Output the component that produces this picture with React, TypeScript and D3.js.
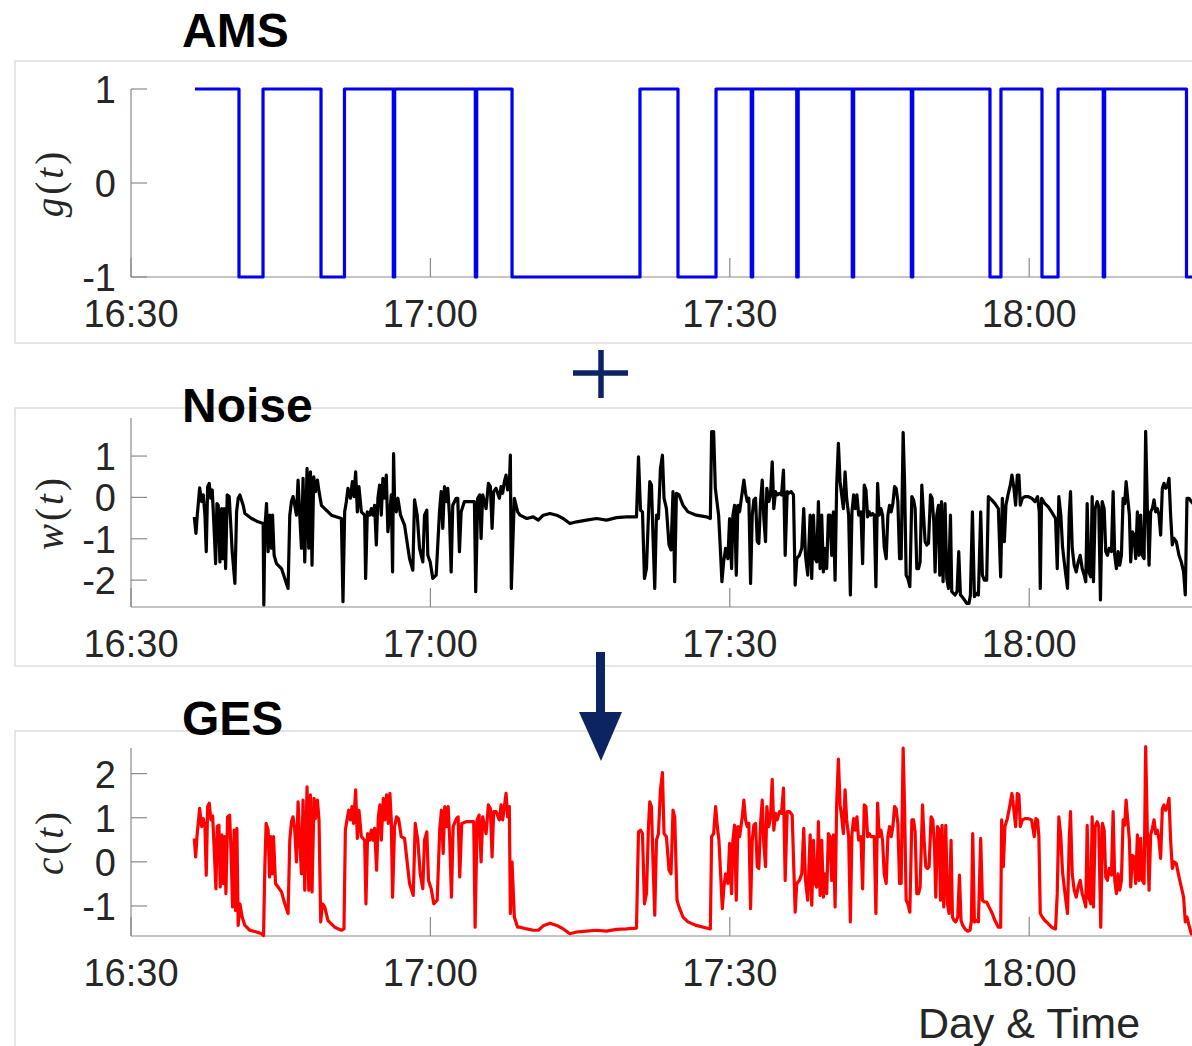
import React from "react";
import * as d3 from "d3";

// ---------- DATA (minutes after 16:30) ----------
const xTickLabels = ["16:30", "17:00", "17:30", "18:00"];

const amsSwitchMinutes = [6.41, 10.82, 13.23, 19.04, 21.39, 26.28, 26.42, 34.5, 34.64, 38.18, 51.0, 54.81, 58.62, 62.15, 62.29, 66.71, 66.85, 72.27, 72.41, 78.19, 78.33, 86.07, 87.17, 91.28, 92.89, 97.42, 97.56, 105.76, 108];
const amsStates = [1, -1, 1, -1, 1, -1, 1, -1, 1, -1, 1, -1, 1, -1, 1, -1, 1, -1, 1, -1, 1, -1, 1, -1, 1, -1, 1, -1, -1];

const noiseSeries: [number, number][] = [
  [6.34,-0.47],[6.51,-0.87],[6.64,-0.43],[6.88,0.23],[7.08,-0.10],[7.24,0.06],[7.41,-0.43],[7.54,-1.31],[7.68,0.26],[7.84,0.34],[7.98,-0.02],[8.14,0.18],[8.31,-0.67],[8.48,-1.60],[8.61,-0.15],[8.74,-0.19],[8.91,-1.56],[9.08,-0.27],[9.21,-1.48],[9.34,-0.27],[9.48,-1.72],[9.64,0.06],[9.84,0.02],[9.98,-0.59],[10.14,-1.31],[10.41,-2.08],[10.58,-0.35],[10.74,-0.02],[10.91,0.06],[11.24,-0.19],[11.41,-0.39],[12.08,-0.51],[12.74,-0.59],[13.24,-0.63],[13.31,-2.6],[13.41,-0.75],[13.58,-0.15],[13.74,-1.31],[13.91,-0.43],[14.08,-1.23],[14.18,-0.43],[14.34,-1.40],[14.58,-1.60],[15.08,-1.72],[15.41,-1.96],[15.74,-2.20],[15.91,-0.43],[16.08,-0.10],[16.24,0.02],[16.41,-0.19],[16.58,-0.43],[16.74,0.42],[16.91,-0.43],[17.08,-1.23],[17.24,0.46],[17.41,-1.56],[17.64,0.70],[17.81,-1.23],[17.98,0.62],[18.14,-1.64],[18.31,0.50],[18.48,0.14],[18.68,0.42],[18.84,0.14],[19.08,-0.19],[19.41,-0.27],[20.08,-0.43],[21.08,-0.51],[21.24,-2.52],[21.41,-0.35],[21.58,-0.10],[21.74,0.22],[21.98,-0.02],[22.18,0.38],[22.34,0.02],[22.51,0.62],[22.68,-0.35],[22.84,0.26],[23.08,-0.35],[23.41,-0.43],[23.51,-1.96],[23.68,-0.35],[23.91,-0.43],[24.08,-0.27],[24.24,-0.43],[24.41,-0.19],[24.58,-1.15],[24.74,-0.02],[24.91,0.30],[25.08,-0.43],[25.24,0.46],[25.41,-0.02],[25.58,0.54],[25.74,-0.83],[25.91,-0.43],[26.08,0.06],[26.21,-1.80],[26.31,1.06],[26.41,-0.02],[26.58,-0.35],[26.74,-0.02],[27.01,-0.43],[27.41,-0.67],[27.91,-1.48],[28.24,-1.76],[28.41,-0.06],[28.68,-0.43],[28.91,-1.23],[29.24,-1.56],[29.41,-0.43],[29.64,-0.31],[29.74,-1.40],[29.98,-1.56],[30.24,-1.96],[30.58,-1.88],[30.91,-0.35],[31.08,0.14],[31.24,-0.75],[31.41,0.26],[31.58,-0.10],[31.74,0.22],[31.91,-0.43],[32.08,-1.80],[32.24,-0.19],[32.58,-0.02],[32.74,-0.02],[32.91,-1.31],[33.08,-0.35],[33.41,-0.10],[34.41,-0.10],[34.54,-2.28],[34.74,-0.02],[34.94,0.06],[35.08,-0.99],[35.24,0.06],[35.58,-0.27],[35.81,0.34],[36.01,0.26],[36.18,-0.75],[36.34,0.14],[36.58,0.22],[36.91,-0.02],[37.08,0.26],[37.24,0.10],[37.41,0.38],[37.58,0.54],[37.74,0.18],[37.91,0.30],[38.01,1.02],[38.11,-2.20],[38.41,-0.02],[38.74,-0.35],
  [38.98,-0.43],[39.65,-0.51],[40.31,-0.47],[40.81,-0.55],[41.31,-0.43],[41.98,-0.39],[42.65,-0.43],[43.31,-0.51],[43.98,-0.63],[44.65,-0.59],[45.65,-0.55],[46.65,-0.51],[47.65,-0.55],[48.65,-0.49],[49.65,-0.47],[50.65,-0.47],[50.85,0.98],[51.05,-0.31],[51.25,-0.35],[51.45,-1.96],[51.65,-1.72],[51.85,-0.43],[51.98,0.38],[52.15,0.30],[52.31,-0.99],[52.48,-2.20],[52.65,-0.43],[52.85,-0.51],[53.05,0.70],[53.25,1.02],[53.41,-0.02],[53.65,-0.27],[53.91,-1.15],[54.11,-1.27],[54.31,0.14],[54.48,-2.04],[54.65,0.10],[54.91,0.06],[55.31,-0.19],[55.81,-0.35],[56.65,-0.43],[57.65,-0.47],[58.05,-0.51],[58.18,1.59],[58.38,1.59],[58.55,0.22],[58.71,-0.10],[58.88,-0.43],[59.05,-1.23],[59.21,-2.04],[59.38,-1.56],[59.58,-1.23],[59.81,-1.48],[59.98,-0.51],[60.18,-1.72],[60.31,-0.43],[60.48,-0.19],[60.65,-1.88],[60.81,-0.19],[60.98,-0.35],[61.25,0.14],[61.41,0.42],[61.58,0.10],[61.75,-0.10],[61.91,-0.02],[62.08,-2.08],[62.25,-0.43],[62.41,-0.06],[62.58,-0.02],[62.75,-1.07],[62.91,-1.11],[63.08,-0.10],[63.25,0.42],[63.41,-0.51],[63.58,-1.07],[63.71,0.22],[63.91,-0.10],[64.08,0.06],[64.25,0.86],[64.41,-0.27],[64.58,0.14],[64.75,0.06],[64.98,0.10],[65.18,0.06],[65.38,0.66],[65.55,-1.40],[65.75,0.14],[65.91,0.10],[66.15,0.14],[66.38,0.06],[66.55,-2.12],[66.71,-1.48],[66.98,-1.40],[67.21,-1.23],[67.41,-0.27],[67.58,-1.40],[67.81,-1.88],[68.05,-0.43],[68.21,-1.96],[68.38,-0.43],[68.55,-1.48],[68.71,-1.56],[68.88,-0.10],[69.05,-1.72],[69.21,-0.43],[69.38,-1.80],[69.55,-1.23],[69.71,-1.72],[69.88,-0.43],[70.05,-0.43],[70.21,-1.40],[70.38,-0.35],[70.55,-2.00],[70.71,0.30],[70.88,1.31],[71.05,0.38],[71.21,0.06],[71.38,-0.27],[71.55,0.62],[71.71,-0.02],[71.91,-0.43],[72.08,-2.36],
  [72.24,-0.35],[72.41,0.06],[72.57,-0.27],[72.74,0.06],[72.91,-0.43],[73.14,-0.35],[73.31,-1.60],[73.47,0.30],[73.64,0.18],[73.81,-0.47],[73.97,-0.35],[74.14,-0.43],[74.31,-0.39],[74.47,-0.43],[74.64,-2.16],[74.81,0.34],[74.97,-0.43],[75.14,-0.27],[75.31,-0.43],[75.47,-1.19],[75.67,-1.48],[75.84,-0.43],[76.01,-0.19],[76.17,-0.35],[76.34,-0.15],[76.51,0.26],[76.67,0.22],[76.84,-0.10],[77.01,-1.48],[77.17,-1.48],[77.37,1.57],[77.51,0.38],[77.67,-1.88],[77.84,-1.96],[78.04,-2.16],[78.24,0.02],[78.41,-0.06],[78.57,-0.27],[78.74,-1.72],[78.91,-1.72],[79.07,-1.56],[79.24,0.30],[79.41,-0.43],[79.57,-1.07],[79.74,-1.15],[79.91,-1.11],[80.11,0.06],[80.27,-0.02],[80.44,-0.59],[80.57,-1.80],[80.74,-0.43],[80.91,-0.19],[81.04,-1.88],[81.21,-0.10],[81.37,-2.04],[81.57,-0.15],[81.74,-1.96],[81.91,-2.20],[82.11,-0.43],[82.24,-2.28],[82.41,-2.32],[82.57,-2.36],[82.77,-2.28],[82.94,-1.31],[83.11,-2.36],[83.27,-2.40],[83.51,-2.48],[83.74,-2.56],[83.97,-2.56],[84.11,-2.36],[84.31,-0.35],[84.51,-2.40],[84.71,-2.32],[84.91,-2.36],[85.14,-0.35],[85.31,-1.88],[85.51,-2.00],[85.74,-2.00],[85.91,0.02],[86.24,-0.06],[86.57,-0.15],[86.91,-0.27],[87.14,-1.92],[87.31,-0.02],[87.51,-1.07],[87.67,-0.19],[87.91,0.10],[88.11,0.30],[88.27,0.54],[88.47,0.22],[88.64,-0.19],[88.81,0.54],[88.97,0.54],[89.11,-0.19],[89.31,-0.02],[89.57,0.02],[89.91,0.02],[90.24,-0.02],[90.57,-0.10],[90.84,0.02],[91.01,-0.35],[91.11,-2.20],[91.24,-0.02],[91.57,-0.15],[91.91,-0.23],[92.24,-0.35],[92.64,-0.51],[92.81,-1.72],[92.97,0.02],[93.17,-0.43],[93.34,-1.19],[93.51,-1.56],[93.67,-1.88],[93.84,-2.20],[94.01,-0.43],[94.14,0.14],[94.31,-1.23],[94.51,-1.64],[94.71,-1.80],[94.91,-1.56],[95.11,-1.40],[95.31,-1.72],[95.51,-1.88],[95.67,-2.04],[95.81,-0.15],[95.97,-1.80],[96.17,-1.92],[96.31,0.02],[96.44,-2.04],[96.61,-0.27],[96.81,-0.10],[96.97,-0.23],[97.14,-2.48],[97.31,-0.10],[97.51,-0.27],[97.67,-1.31],[97.84,-1.40],[98.01,-1.23],[98.24,-1.31],[98.41,0.14],[98.57,-1.40],[98.74,-1.72],[98.91,-1.31],[99.07,-1.64],[99.24,-1.40],[99.41,-0.02],[99.57,-0.15],[99.71,0.38],[99.87,-0.02],[100.04,-0.43],[100.17,-1.56],[100.34,-0.83],[100.51,-0.91],[100.67,-1.48],[100.84,-0.35],[101.01,-1.40],[101.17,-0.43],[101.34,-1.40],[101.51,-1.48],[101.67,1.60],[101.84,-0.27],[102.01,-1.64],[102.17,-0.35],[102.34,-0.27],[102.51,-0.06],[102.67,-0.35],[102.84,-0.27],[103.01,-0.43],[103.17,-0.91],[103.34,0.22],[103.51,0.34],[103.67,0.22],[103.84,0.26],[104.01,0.46],[104.17,-0.43],[104.34,-1.15],[104.51,-0.99],[104.74,-1.07],[105.01,-1.40],[105.24,-1.56],[105.47,-1.80],[105.64,-2.36],[105.81,-0.02],[106.01,-0.02],[106.24,-0.10],[106.6,-0.2]
];

const gesSeries: [number, number][] = [
  [6.34,0.53],[6.48,0.11],[6.61,0.57],[6.88,1.21],[7.08,0.80],[7.24,0.98],[7.41,0.80],[7.54,-0.30],[7.68,1.25],[7.84,1.33],[8.01,0.95],[8.18,1.04],[8.34,0.27],[8.51,-0.61],[8.64,0.80],[8.81,0.83],[8.94,-0.57],[9.11,0.61],[9.24,-0.49],[9.38,0.57],[9.51,-0.72],[9.68,1.02],[9.88,1.06],[10.01,0.34],[10.18,-1.02],[10.34,0.72],[10.48,-1.10],[10.61,0.76],[10.74,-1.44],[10.91,-0.95],[11.14,-1.25],[11.41,-1.44],[11.91,-1.55],[12.58,-1.59],[13.08,-1.63],[13.28,-1.67],[13.41,-0.11],[13.54,0.87],[13.74,0.72],[13.88,-0.34],[14.01,0.57],[14.14,-0.27],[14.28,0.57],[14.48,-0.49],[14.74,-0.57],[15.08,-0.68],[15.41,-0.95],[15.74,-1.17],[15.91,0.49],[16.08,0.91],[16.24,1.02],[16.41,0.72],[16.58,0],[16.74,1.36],[16.91,0.49],[17.08,-0.27],[17.24,1.40],[17.41,-0.64],[17.64,1.70],[17.81,-0.64],[17.98,1.52],[18.14,-0.68],[18.34,1.44],[18.48,0.98],[18.68,1.40],[18.84,0.95],[19.01,-1.36],[19.18,-0.95],[19.41,-1.02],[19.74,-1.33],[20.41,-1.48],[21.08,-1.55],[21.34,-1.52],[21.48,0.72],[21.64,0.95],[21.81,1.17],[21.98,0.95],[22.14,1.25],[22.31,0.87],[22.51,1.63],[22.68,0.53],[22.84,1.17],[23.08,0.57],[23.41,0.49],[23.54,-0.95],[23.71,0.64],[23.91,0.49],[24.08,0.72],[24.24,0.49],[24.41,0.76],[24.61,-0.19],[24.78,1.02],[24.94,1.29],[25.08,0.49],[25.28,1.44],[25.44,0.95],[25.61,1.52],[25.78,0.87],[25.94,1.55],[26.08,0.95],[26.21,-0.80],[26.41,0.80],[26.61,1.02],[26.81,0.98],[27.08,0.57],[27.41,0.53],[27.91,-0.49],[28.28,-0.76],[28.48,0.87],[28.74,0.49],[28.98,-0.27],[29.24,-0.61],[29.41,0.49],[29.64,0.68],[29.81,-0.42],[30.08,-0.61],[30.34,-0.95],[30.68,-0.87],[30.94,0.76],[31.11,1.17],[31.28,0.19],[31.44,1.25],[31.61,0.80],[31.78,1.25],[31.94,0.49],[32.11,-0.80],[32.28,0.80],[32.61,0.98],[32.78,1.02],[32.94,-0.34],[33.14,0.87],[33.58,0.91],[34.34,0.91],[34.48,-1.48],[34.68,0.95],[34.88,1.06],[35.08,0],[35.24,1.02],[35.58,0.64],[35.81,1.29],[36.01,1.21],[36.18,0.11],[36.34,1.14],[36.58,1.14],[36.91,0.95],[37.08,1.29],[37.24,0.95],[37.41,1.25],[37.58,1.55],[37.74,1.02],[37.91,1.25],[38.01,-1.17],[38.18,0],[38.41,-1.25],[38.74,-1.48],
  [38.98,-1.48],[39.65,-1.52],[40.31,-1.55],[40.81,-1.55],[41.31,-1.45],[41.98,-1.39],[42.65,-1.44],[43.31,-1.52],[43.98,-1.63],[44.65,-1.59],[45.65,-1.57],[46.65,-1.55],[47.65,-1.57],[48.65,-1.53],[49.65,-1.52],[50.65,-1.50],[50.85,0.68],[51.05,0.72],[51.25,0.64],[51.45,-0.95],[51.65,-0.72],[51.85,0.80],[51.98,1.36],[52.15,1.25],[52.31,-0.04],[52.48,-1.21],[52.65,0.49],[52.85,0.64],[53.05,1.63],[53.25,2.02],[53.41,0.64],[53.65,0.57],[53.91,-0.19],[54.11,-0.27],[54.31,1.17],[54.48,1.02],[54.71,-0.87],[54.91,-1.02],[55.31,-1.25],[55.81,-1.36],[56.65,-1.44],[57.65,-1.50],[58.05,-1.52],[58.18,0.57],[58.38,0.64],[58.58,1.25],[58.75,0.80],[58.91,0.49],[59.08,-0.27],[59.25,-1.06],[59.41,-0.57],[59.58,-0.27],[59.81,-0.49],[59.98,0.42],[60.18,-0.72],[60.31,0.49],[60.48,0.83],[60.65,-0.87],[60.81,0.80],[60.98,0.57],[61.25,1.02],[61.41,1.40],[61.58,0.95],[61.75,0.80],[61.91,0.87],[62.08,-1.06],[62.25,0.49],[62.41,0.83],[62.58,0.87],[62.75,-0.11],[62.91,-0.15],[63.08,0.87],[63.25,1.40],[63.41,0.42],[63.58,-0.11],[63.71,1.25],[63.91,0.80],[64.08,1.02],[64.25,1.87],[64.41,0.72],[64.58,1.10],[64.75,0.95],[64.98,1.14],[65.18,1.10],[65.38,1.67],[65.55,-0.42],[65.75,1.14],[65.98,1.14],[66.25,1.06],[66.55,-1.14],[66.71,-0.49],[66.98,-0.42],[67.21,-0.27],[67.41,0.76],[67.58,-0.42],[67.81,-0.87],[68.05,0.61],[68.21,-0.98],[68.38,0.49],[68.55,-0.49],[68.71,-0.57],[68.88,0.91],[69.05,-0.76],[69.21,0.49],[69.38,-0.80],[69.55,-0.27],[69.71,-0.72],[69.88,0.64],[70.05,0.57],[70.21,-0.42],[70.38,0.61],[70.55,-1.02],[70.71,1.33],[70.88,2.33],[71.05,1.29],[71.21,1.02],[71.38,0.64],[71.55,1.63],[71.71,0.95],[71.91,0.57],[72.08,-1.36],
  [72.24,0.64],[72.41,0.98],[72.57,0.72],[72.74,1.02],[72.91,0.49],[73.14,0.57],[73.31,-0.61],[73.47,1.29],[73.64,1.25],[73.81,0.57],[73.97,0.64],[74.14,0.57],[74.31,0.57],[74.47,0.57],[74.64,-1.17],[74.81,1.33],[74.97,0.57],[75.14,0.72],[75.31,0.49],[75.47,-0.27],[75.67,-0.49],[75.84,0.57],[76.01,0.80],[76.17,0.57],[76.34,0.80],[76.51,1.25],[76.67,1.21],[76.84,0.87],[77.01,-0.49],[77.17,-0.49],[77.37,2.58],[77.51,1.25],[77.67,-0.87],[77.84,-0.95],[78.04,-1.14],[78.24,0.95],[78.41,0.95],[78.57,0.68],[78.74,-0.72],[78.91,-0.72],[79.07,-0.57],[79.31,1.29],[79.47,0.49],[79.64,-0.11],[79.81,-0.15],[79.97,-0.11],[80.17,1.02],[80.34,0.95],[80.51,0.34],[80.64,-0.80],[80.81,0.80],[80.97,0.72],[81.11,-0.87],[81.27,0.83],[81.44,-1.02],[81.64,0.83],[81.81,-0.95],[81.97,-1.17],[82.17,0.49],[82.31,-1.25],[82.47,-1.33],[82.64,-1.36],[82.84,-1.25],[83.01,-0.30],[83.17,-1.33],[83.34,-1.44],[83.57,-1.52],[83.84,-1.57],[84.07,-1.55],[84.21,-1.33],[84.34,0.64],[84.51,-1.36],[84.71,-1.33],[84.91,-1.36],[85.14,0.53],[85.31,-0.87],[85.51,-0.91],[85.74,-0.91],[85.97,-1.02],[86.24,-1.14],[86.57,-1.33],[86.91,-1.48],[87.14,-1.48],[87.24,0.95],[87.41,-0.11],[87.57,0.80],[87.81,0.98],[88.04,1.25],[88.27,1.55],[88.47,1.17],[88.64,0.80],[88.81,1.55],[88.97,1.52],[89.11,0.80],[89.31,0.95],[89.57,0.98],[89.91,0.98],[90.24,0.95],[90.51,0.57],[90.67,0.98],[90.84,0.95],[90.97,0.57],[91.11,-1.17],[91.31,-1.25],[91.57,-1.33],[91.91,-1.40],[92.24,-1.48],[92.64,-1.52],[92.81,-0.72],[92.97,1.02],[93.17,0.57],[93.34,-0.23],[93.51,-0.57],[93.67,-0.87],[93.84,-1.17],[94.01,0.49],[94.14,1.14],[94.31,-0.27],[94.51,-0.64],[94.71,-0.80],[94.91,-0.57],[95.11,-0.42],[95.31,-0.72],[95.51,-0.87],[95.67,-1.02],[95.81,0.83],[95.97,-0.80],[96.17,-0.95],[96.31,1.02],[96.44,-1.02],[96.61,0.80],[96.81,0.91],[96.97,0.80],[97.17,-1.48],[97.34,0.87],[97.51,0.72],[97.67,-0.34],[97.84,-0.42],[98.01,-0.15],[98.24,-0.30],[98.41,1.14],[98.57,-0.42],[98.74,-0.72],[98.91,-0.27],[99.07,-0.64],[99.24,-0.42],[99.41,0.95],[99.57,0.83],[99.71,1.40],[99.87,0.95],[100.04,0.49],[100.17,-0.57],[100.34,0.15],[100.51,0.11],[100.67,-0.49],[100.84,0.61],[101.01,-0.42],[101.17,0.53],[101.34,-0.42],[101.51,-0.49],[101.67,2.61],[101.84,0.64],[102.01,-0.64],[102.17,0.61],[102.34,0.76],[102.51,0.95],[102.67,0.64],[102.84,0.72],[103.01,0.49],[103.17,0.08],[103.34,1.21],[103.51,1.29],[103.67,1.17],[103.84,1.25],[104.01,1.44],[104.17,0.49],[104.34,-0.15],[104.51,0],[104.74,-0.04],[105.01,-0.34],[105.24,-0.57],[105.47,-0.80],[105.64,-1.36],[105.81,-1.25],[106.01,-1.44],[106.24,-1.63],[106.6,-1.66]
];

const amsTicks = [-1, 0, 1];
const noiseTicks = [-2, -1, 0, 1];
const gesTicks = [-1, 0, 1, 2];

// ---------- LAYOUT ----------
const W = 1192;
const H = 1046;
const AXIS_X = 131;
const PX_PER_MIN = 9.98;
const DOMAIN_MIN = 108;
const BASE = new Date(2020, 0, 1, 16, 30, 0);
const toDate = (m: number) => new Date(BASE.getTime() + m * 60000);

const xScale = d3
  .scaleTime()
  .domain([toDate(0), toDate(DOMAIN_MIN)])
  .range([AXIS_X, AXIS_X + DOMAIN_MIN * PX_PER_MIN]);

const fmt = d3.timeFormat("%H:%M");
const xTicks = xScale.ticks(d3.timeMinute.every(30) as any).filter((d) => xTickLabels.includes(fmt(d)));

const SANS = "'Liberation Sans', Arial, Helvetica, sans-serif";
const SERIF = "'Liberation Serif', 'Times New Roman', serif";
const AXIS_COLOR = "#8a8a8a";
const TEXT_COLOR = "#262626";
const FRAME_COLOR = "#d4d4d4";
const NAVY = "#0c2461";

type PanelProps = {
  id: string;
  title: string;
  titleY: number;
  frameTop: number;
  frameBottom: number;
  yTop: number;
  yBottom: number;
  domain: [number, number];
  ticks: number[];
  labelVar: string;
  color: string;
  path: (y: d3.ScaleLinear<number, number>) => string;
};

function Panel(p: PanelProps) {
  const y = d3.scaleLinear().domain(p.domain).range([p.yBottom, p.yTop]);
  const d = p.path(y);
  const labelCenter = (p.yTop + p.yBottom) / 2;
  return (
    <g>
      <rect x={15} y={p.frameTop} width={W + 20} height={p.frameBottom - p.frameTop} fill="#fff" stroke={FRAME_COLOR} strokeWidth={1.2} />
      <clipPath id={`clip-${p.id}`}>
        <rect x={AXIS_X} y={p.yTop - 4} width={W} height={p.yBottom - p.yTop + 8} />
      </clipPath>
      {/* y axis */}
      <line x1={AXIS_X} x2={AXIS_X} y1={p.yTop} y2={p.yBottom} stroke={AXIS_COLOR} strokeWidth={1.2} />
      {p.ticks.map((t) => (
        <g key={t}>
          <line x1={AXIS_X} x2={AXIS_X + 16} y1={y(t)} y2={y(t)} stroke={AXIS_COLOR} strokeWidth={1.2} />
          <text x={116} y={y(t) + 14} textAnchor="end" fontFamily={SANS} fontSize={38} fill={TEXT_COLOR}>
            {t < 0 ? `-${Math.abs(t)}` : `${t}`}
          </text>
        </g>
      ))}
      {/* x axis */}
      <line x1={AXIS_X} x2={W + 10} y1={p.yBottom} y2={p.yBottom} stroke={AXIS_COLOR} strokeWidth={1.2} />
      {xTicks.map((t) => (
        <g key={+t}>
          <line x1={xScale(t)} x2={xScale(t)} y1={p.yBottom} y2={p.yBottom - 19} stroke={AXIS_COLOR} strokeWidth={1.2} />
          <text x={xScale(t)} y={p.yBottom + 50} textAnchor="middle" fontFamily={SANS} fontSize={38} fill={TEXT_COLOR}>
            {fmt(t)}
          </text>
        </g>
      ))}
      {/* y label */}
      <text
        transform={`translate(63, ${labelCenter}) rotate(-90)`}
        textAnchor="middle"
        fontFamily={SERIF}
        fontSize={39}
        letterSpacing={3}
        fill={TEXT_COLOR}
      >
        <tspan fontStyle="italic">{p.labelVar}</tspan>(<tspan fontStyle="italic">t</tspan>)
      </text>
      {/* series */}
      <path d={d} fill="none" stroke={p.color} strokeWidth={3.2} strokeLinejoin="round" clipPath={`url(#clip-${p.id})`} />
      {/* title */}
      <text x={182} y={p.titleY} fontFamily={SANS} fontWeight="bold" fontSize={48} fill="#000">
        {p.title}
      </text>
    </g>
  );
}

export default function App() {
  const amsPoints = amsSwitchMinutes.map((m, i) => [m, amsStates[i]] as [number, number]);
  const stepPath = (y: d3.ScaleLinear<number, number>) =>
    d3
      .line<[number, number]>()
      .x((d) => xScale(toDate(d[0])))
      .y((d) => y(d[1]))
      .curve(d3.curveStepAfter)(amsPoints) || "";
  const linePath = (series: [number, number][]) => (y: d3.ScaleLinear<number, number>) =>
    d3
      .line<[number, number]>()
      .x((d) => xScale(toDate(d[0])))
      .y((d) => y(d[1]))(series) || "";

  return (
    <svg
      width={W}
      height={H}
      viewBox={`0 0 ${W} ${H}`}
      style={{ position: "absolute", left: 0, top: 0, background: "#fff" }}
    >
      <rect x={0} y={0} width={W} height={H} fill="#fff" />
      <Panel
        id="ams"
        title="AMS"
        titleY={47}
        frameTop={61}
        frameBottom={343}
        yTop={89}
        yBottom={277}
        domain={[-1, 1]}
        ticks={amsTicks}
        labelVar="g"
        color="#0000ee"
        path={stepPath}
      />
      <Panel
        id="noise"
        title="Noise"
        titleY={422}
        frameTop={408}
        frameBottom={666}
        yTop={418}
        yBottom={607}
        domain={[-2.65, 1.92]}
        ticks={noiseTicks}
        labelVar="w"
        color="#000000"
        path={linePath(noiseSeries)}
      />
      <Panel
        id="ges"
        title="GES"
        titleY={735}
        frameTop={731}
        frameBottom={1060}
        yTop={748}
        yBottom={936}
        domain={[-1.68, 2.58]}
        ticks={gesTicks}
        labelVar="c"
        color="#ff0000"
        path={linePath(gesSeries)}
      />
      {/* plus sign */}
      <line x1={573} x2={628} y1={373} y2={373} stroke={NAVY} strokeWidth={5.5} />
      <line x1={601} x2={601} y1={350} y2={398} stroke={NAVY} strokeWidth={5.5} />
      {/* down arrow */}
      <rect x={596} y={652} width={9} height={62} fill={NAVY} />
      <polygon points="579,712 622,712 601,761" fill={NAVY} />
      {/* x label */}
      <text x={1029} y={1038} textAnchor="middle" fontFamily={SANS} fontSize={43} fill={TEXT_COLOR}>
        Day &amp; Time
      </text>
    </svg>
  );
}
